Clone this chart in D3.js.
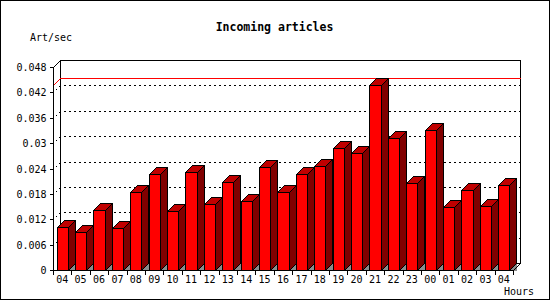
<!DOCTYPE html>
<html>
<head>
<meta charset="utf-8">
<script src="https://cdn.jsdelivr.net/npm/d3@7"></script>
<style>
  html, body { margin: 0; padding: 0; background: #fff; }
  svg { display: block; }
</style>
</head>
<body>
<svg id="chart" width="550" height="300"></svg>
<script>
// ---- data ----
const hours = ["04","05","06","07","08","09","10","11","12","13","14","15","16",
               "17","18","19","20","21","22","23","00","01","02","03","04"];
const rates = [0.0101, 0.0089, 0.0142, 0.0099, 0.0184, 0.0226, 0.0140, 0.0231, 0.0155,
               0.0209, 0.0163, 0.0244, 0.0184, 0.0226, 0.0247, 0.0288, 0.0276, 0.0437,
               0.0311, 0.0205, 0.0330, 0.0148, 0.0188, 0.0151, 0.0200];
const yTicks = [0, 0.006, 0.012, 0.018, 0.024, 0.03, 0.036, 0.042, 0.048];
const yTickLabels = ["0","0.006","0.012","0.018","0.024","0.03","0.036","0.042","0.048"];
const titleText = "Incoming articles";
const yTitle = "Art/sec";
const xTitle = "Hours";

// ---- layout ----
const W = 550, H = 300;
const pLeft = 53, pRight = 513, pBottom = 270, pTop = 67;
const D = 7; // 3D depth
const mono = "'DejaVu Sans Mono', monospace";

const svg = d3.select("#chart");
svg.append("rect").attr("x", 0).attr("y", 0).attr("width", W).attr("height", H).attr("fill", "#fff");
svg.append("rect").attr("x", 0.5).attr("y", 0.5).attr("width", W - 1).attr("height", H - 1)
  .attr("fill", "none").attr("stroke", "#000");

const idx = hours.map((d, i) => i);
const x = d3.scaleBand().domain(idx).range([pLeft, pRight]).paddingInner(0.4).paddingOuter(0.2);
const xl = d3.scaleLinear().domain([0, hours.length]).range([pLeft, pRight]);
const y = d3.scaleLinear().domain([0, 0.048]).range([pBottom, pTop]);

const px = v => Math.round(v) + 0.5;
const g = svg.append("g").attr("shape-rendering", "crispEdges");

// back frame
const bt = px(y(0.048) - D), bb = px(pBottom - D), bl = px(pLeft + D), br = px(pRight + D);
g.append("path")
  .attr("d", `M${bl},${bb}V${bt}H${br}V${bb}H${bl}`)
  .attr("fill", "none").attr("stroke", "#000");
g.append("path")
  .attr("d", `M${px(pLeft)},${px(y(0.048))}L${bl},${bt}`)
  .attr("fill", "none").attr("stroke", "#000");

// grid lines (dotted)
g.selectAll(".grid").data(yTicks.filter(t => t > 0 && t < 0.048)).enter().append("path")
  .attr("d", t => `M${br},${px(y(t) - D)}H${bl}L${px(pLeft)},${px(y(t))}`)
  .attr("fill", "none").attr("stroke", "#000").attr("stroke-dasharray", "2,3");

// max line
const maxV = d3.max(rates);
g.append("path")
  .attr("d", `M${px(pLeft)},${px(y(maxV))}L${bl},${px(y(maxV) - D)}H${br}`)
  .attr("fill", "none").attr("stroke", "#f00");

// bars
const bw = x.bandwidth();
const bars = g.selectAll(".bar").data(rates).enter().append("g");
bars.each(function (v, i) {
  const s = d3.select(this);
  const x0 = px(x(i)), x1 = px(x(i) + bw), yt = px(y(v)), yb = px(pBottom);
  s.append("polygon")
    .attr("points", `${x1},${yb} ${x1 + D},${yb - D} ${x1 + D},${yb}`)
    .attr("fill", "#8c8c8c");
  s.append("polygon")
    .attr("points", `${x1},${yt} ${x1 + D},${yt - D} ${x1 + D},${yb - D} ${x1},${yb}`)
    .attr("fill", "#800000").attr("stroke", "#000");
  s.append("polygon")
    .attr("points", `${x0},${yt} ${x0 + D},${yt - D} ${x1 + D},${yt - D} ${x1},${yt}`)
    .attr("fill", "#c00000").attr("stroke", "#000");
  s.append("rect")
    .attr("x", x0).attr("y", yt).attr("width", x1 - x0).attr("height", yb - yt)
    .attr("fill", "#f00").attr("stroke", "#000");
});

// front axes
g.append("path")
  .attr("d", `M${px(pLeft)},${px(pTop)}V${px(pBottom)}H${px(pRight)}L${br},${bb}`)
  .attr("fill", "none").attr("stroke", "#000");

// y axis
const yAxis = d3.axisLeft(y).tickValues(yTicks)
  .tickFormat((d, i) => yTickLabels[i]).tickSize(4).tickSizeOuter(0).tickPadding(3);
const yg = svg.append("g").attr("transform", `translate(${px(pLeft)},0)`).call(yAxis);
yg.select(".domain").remove();
yg.selectAll(".tick").attr("transform", d => `translate(0,${px(y(d))})`);
yg.selectAll("line").attr("stroke", "#000").attr("shape-rendering", "crispEdges");
yg.selectAll("text").attr("font-family", mono).attr("font-size", 10).attr("fill", "#000");

// x tick marks at boundaries
const xtAxis = d3.axisBottom(xl).tickValues(d3.range(0, hours.length + 1))
  .tickFormat("").tickSize(4).tickSizeOuter(0);
const xtg = svg.append("g").attr("transform", `translate(0,${px(pBottom)})`).call(xtAxis);
xtg.select(".domain").remove();
xtg.selectAll(".tick").attr("transform", d => `translate(${px(xl(d))},0)`);
xtg.selectAll("line").attr("stroke", "#000").attr("shape-rendering", "crispEdges");

// x labels
const xAxis = d3.axisBottom(x).tickFormat(i => hours[i]).tickSize(0).tickPadding(6);
const xg = svg.append("g").attr("transform", `translate(0,${pBottom})`).call(xAxis);
xg.select(".domain").remove();
xg.selectAll("text").attr("font-family", mono).attr("font-size", 10).attr("fill", "#000");

// titles
svg.append("text").attr("x", 274.5).attr("y", 31).attr("text-anchor", "middle")
  .attr("font-family", mono).attr("font-weight", "bold").attr("font-size", 11.5)
  .text(titleText);
svg.append("text").attr("x", 30).attr("y", 40.5)
  .attr("font-family", mono).attr("font-size", 10).text(yTitle);
svg.append("text").attr("x", 504).attr("y", 295)
  .attr("font-family", mono).attr("font-size", 10).text(xTitle);
</script>
</body>
</html>
